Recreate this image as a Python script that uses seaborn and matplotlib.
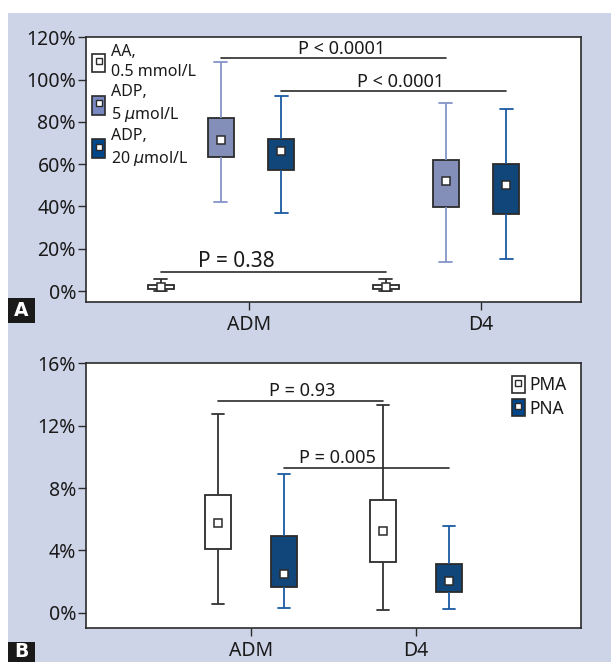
import numpy as np
import pandas as pd
import matplotlib
matplotlib.use("Agg")
import matplotlib.pyplot as plt
import seaborn as sns
from matplotlib.patches import Rectangle, Patch
from matplotlib.lines import Line2D
from matplotlib.legend_handler import HandlerTuple

groups = ["ADM", "D4"]

# panel A: min, q1, median, q3, max (%)
agonists = ["AA,\n0.5 mmol/L", "ADP,\n5 $\\mu$mol/L", "ADP,\n20 $\\mu$mol/L"]
aa_adm = [0.0, 1.1, 2.0, 2.8, 5.8]
aa_d4 = [0.0, 1.1, 2.0, 2.8, 5.8]
adp5_adm = [42.0, 63.2, 71.4, 81.7, 108.2]
adp5_d4 = [13.9, 39.6, 52.1, 62.0, 89.0]
adp20_adm = [36.9, 57.3, 66.1, 71.8, 92.1]
adp20_d4 = [15.0, 36.3, 50.0, 60.3, 86.1]
a_ticks = [0, 20, 40, 60, 80, 100, 120]
a_pvals = ["P < 0.0001", "P < 0.0001", "P = 0.38"]

# panel B: min, q1, median, q3, max (%)
markers_b = ["PMA", "PNA"]
pma_adm = [0.58, 4.09, 5.78, 7.57, 12.73]
pma_d4 = [0.19, 3.23, 5.22, 7.25, 13.35]
pna_adm = [0.30, 1.63, 2.50, 4.94, 8.90]
pna_d4 = [0.24, 1.30, 2.05, 3.14, 5.56]
b_ticks = [0, 4, 8, 12, 16]
b_pvals = ["P = 0.93", "P = 0.005"]

EDGE = "#2b2b2b"
TXT = "#1a1a1a"
BG = "#ced4e8"
fills_a = ["white", "#7a88c2", "#00468b"]
whisk_a = ["#333333", "#8594c8", "#1a5aa3"]
fills_b = ["white", "#00468b"]
whisk_b = ["#333333", "#1a5aa3"]


def long_df(table, hues):
    rows = []
    for hue, per_group in zip(hues, table):
        for g, vals in zip(groups, per_group):
            rows += [(g, hue, v) for v in vals]
    return pd.DataFrame(rows, columns=["time", "kind", "value"])


def draw_boxes(ax, df, hues, fills, whisk, width, gap):
    sns.boxplot(data=df, x="time", y="value", hue="kind", order=groups,
                hue_order=hues, palette=fills, width=width, gap=gap,
                whis=(0, 100), linecolor=EDGE, linewidth=1.3, fliersize=0,
                legend=False, ax=ax)
    centers = []
    for cont, wc in zip(ax.containers, whisk):
        for ln in list(cont.whiskers) + list(cont.caps):
            ln.set_color(wc)
        row = []
        for med in cont.medians:
            xm = np.mean(med.get_xdata())
            ym = med.get_ydata()[0]
            ax.plot(xm, ym, "s", ms=5.5, mfc="white", mec=EDGE, mew=1.1, zorder=5)
            med.set_visible(False)
            row.append(xm)
        centers.append(row)
    return centers


def legend_handles(fills):
    return [(Patch(facecolor=f, edgecolor=EDGE, linewidth=1.2),
             Line2D([], [], marker="s", ls="", ms=4.5, mfc="white", mec=EDGE, mew=1))
            for f in fills]


def style_axis(ax, ticks, ylim, xlim):
    ax.set_ylim(*ylim)
    ax.set_xlim(*xlim)
    ax.set_yticks(ticks)
    ax.set_yticklabels([f"{t}%" for t in ticks])
    ax.set_xlabel("")
    ax.set_ylabel("")
    ax.set_facecolor("white")
    for s in ax.spines.values():
        s.set_visible(True)
        s.set_color(EDGE)
        s.set_linewidth(1.2)
    ax.tick_params(direction="out", length=5.5, width=1, color=EDGE,
                   labelsize=14, labelcolor=TXT, pad=1.5)
    ax.tick_params(axis="x", pad=4)


sns.set_theme(style="ticks")
plt.rcParams["font.family"] = ["Noto Sans", "DejaVu Sans"]
plt.rcParams["font.weight"] = 500
plt.rcParams["mathtext.fontset"] = "dejavusans"

fig = plt.figure(figsize=(6.11, 6.62), dpi=100)
fig.patch.set_facecolor("white")
fig.add_artist(Rectangle((8 / 611, 0), 1, (662 - 12.7) / 662,
                         transform=fig.transFigure, facecolor=BG,
                         edgecolor="none", zorder=-10))

ax1 = fig.add_axes([0.1403, 0.5434, 0.8113, 0.4003])
ax2 = fig.add_axes([0.1403, 0.0518, 0.8113, 0.3994])

# ---- panel A
df_a = long_df([[aa_adm, aa_d4], [adp5_adm, adp5_d4], [adp20_adm, adp20_d4]], agonists)
ca = draw_boxes(ax1, df_a, agonists, fills_a, whisk_a, 0.805, 0.57)
style_axis(ax1, a_ticks, (-5.3, 120), (-0.601, 1.602))
ax1.set_xticks([0.125, 1.155])
ax1.set_xticklabels(groups)

sig_a = [(ca[1], 110.1, 0.538, 114.4, 13),
         (ca[2], 94.8, 0.80, 99.0, 13),
         (ca[0], 9.1, 0.07, 14.2, 15)]
for (xs, y, tx, ty, fs), lab in zip(sig_a, a_pvals):
    ax1.plot([xs[0], xs[1]], [y, y], color=EDGE, lw=1.2)
    ax1.text(tx, ty, lab, ha="center", va="center", fontsize=fs, color=TXT)

leg1 = ax1.legend(legend_handles(fills_a), agonists,
                  handler_map={tuple: HandlerTuple(ndivide=1)},
                  loc="upper left", bbox_to_anchor=(0.0, 0.998), frameon=False,
                  fontsize=11.5, handlelength=0.8, handleheight=1.45,
                  handletextpad=0.4, labelspacing=0.25, borderpad=0.2,
                  borderaxespad=0.2)
for t in leg1.get_texts():
    t.set_linespacing(1.35)
    t.set_color(TXT)

# ---- panel B
df_b = long_df([[pma_adm, pma_d4], [pna_adm, pna_d4]], markers_b)
cb = draw_boxes(ax2, df_b, markers_b, fills_b, whisk_b, 0.8, 0.617)
style_axis(ax2, b_ticks, (-0.96, 16), (-1.002, 2.002))

sig_b = [(cb[0], 13.58, 0.309, 14.2),
         (cb[1], 9.30, 0.524, 9.94)]
for (xs, y, tx, ty), lab in zip(sig_b, b_pvals):
    ax2.plot([xs[0], xs[1]], [y, y], color=EDGE, lw=1.2)
    ax2.text(tx, ty, lab, ha="center", va="center", fontsize=13, color=TXT)

leg2 = ax2.legend(legend_handles(fills_b), markers_b,
                  handler_map={tuple: HandlerTuple(ndivide=1)},
                  loc="upper right", bbox_to_anchor=(0.985, 0.98), frameon=False,
                  fontsize=12.5, handlelength=0.75, handleheight=1.15,
                  handletextpad=0.3, labelspacing=0.3, borderpad=0.2,
                  borderaxespad=0.2)
for t in leg2.get_texts():
    t.set_color(TXT)

# panel letters
for lab, y0, yc in [("A", (662 - 323) / 662, (662 - 310.5) / 662),
                    ("B", (662 - 666.7) / 662, (662 - 651.5) / 662)]:
    fig.add_artist(Rectangle((8 / 611, y0), 27 / 611, 25 / 662,
                             transform=fig.transFigure, facecolor="#1a1a1a",
                             edgecolor="none", zorder=5))
    fig.text(21.5 / 611, yc, lab, color="white", fontsize=13.5, fontweight="bold",
             family="DejaVu Sans", ha="center", va="center", zorder=6)

fig.savefig("out.png", dpi=100, facecolor=fig.get_facecolor())
